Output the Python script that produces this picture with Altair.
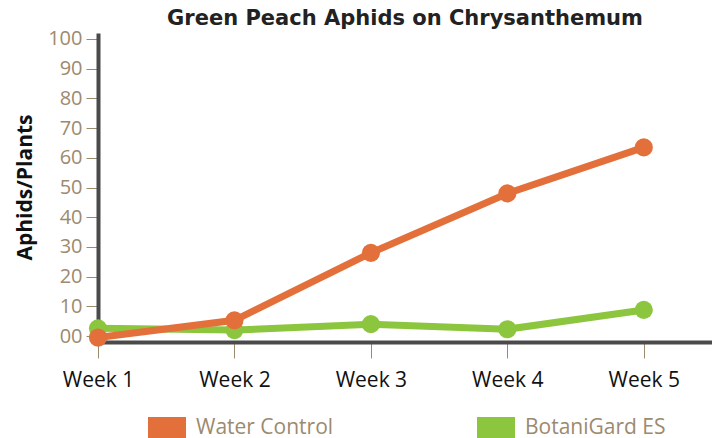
import altair as alt
import pandas as pd

weeks = [1, 2, 3, 4, 5]
water_control = [-0.5, 5.3, 28, 48, 63.5]
botanigard = [2.6, 2.0, 4.0, 2.3, 8.8]
series_names = ["Water Control", "BotaniGard ES"]
series_colors = ["#E3703A", "#8CC63F"]
y_ticks = [0, 10, 20, 30, 40, 50, 60, 70, 80, 90, 100]

rows = []
for w, v in zip(weeks, botanigard):
    rows.append({"week": w, "value": v, "series": series_names[1], "order": 0})
for w, v in zip(weeks, water_control):
    rows.append({"week": w, "value": v, "series": series_names[0], "order": 1})
df = pd.DataFrame(rows)

brown = "#9C8A6E"
font = "Open Sans"

x = alt.X("week:Q",
          scale=alt.Scale(domain=[1, 5.50], nice=False, zero=False),
          axis=alt.Axis(values=weeks, labelExpr="'Week ' + datum.value",
                        title=None, grid=False, domainColor="#4A4A4A",
                        domainWidth=4, tickColor=brown, tickWidth=1,
                        tickSize=16, labelFontSize=21, labelColor="#111",
                        labelFont=font, labelPadding=11, labelFlush=False,
                        labelOverlap=False))
y = alt.Y("value:Q",
          scale=alt.Scale(domain=[-2, 102], nice=False, zero=False),
          axis=alt.Axis(values=y_ticks,
                        labelExpr="datum.value == 0 ? '00' : datum.label",
                        title="Aphids/Plants", titleFontSize=21,
                        titleFont=font, titleFontWeight="bold",
                        titleColor="#111", titleX=-73, titleY=154,
                        titleAngle=270, titleAlign="center",
                        titleBaseline="middle",
                        grid=False, domainColor="#4A4A4A", domainWidth=4,
                        tickColor=brown, tickWidth=1, tickSize=12,
                        labelFontSize=20, labelColor=brown, labelFont=font,
                        labelPadding=4, labelFlush=False))
color = alt.Color("series:N",
                  scale=alt.Scale(domain=series_names, range=series_colors),
                  legend=alt.Legend(title=None, orient="none",
                                    direction="horizontal", legendX=50,
                                    legendY=376,
                                    symbolType="M-1,-0.6H1V0.6H-1Z",
                                    symbolSize=1444, symbolStrokeWidth=0,
                                    labelFontSize=21, labelColor=brown,
                                    labelFont=font, labelOffset=10,
                                    gridAlign="all", columnPadding=140))

base = alt.Chart(df).encode(x=x, y=y, color=color, order="order:Q")
lines = base.mark_line(strokeWidth=7, opacity=1).encode(detail="series:N")
points = base.mark_circle(size=330, opacity=1)

chart = alt.layer(lines, points).properties(
    width=614, height=309,
    title=alt.TitleParams("Green Peach Aphids on Chrysanthemum",
                          fontSize=21, font="DejaVu Sans", fontWeight="bold",
                          color="#222", anchor="middle", offset=0,
                          frame="group"),
    autosize=alt.AutoSizeParams(type="none"),
    padding={"left": 90, "top": 25, "right": 0, "bottom": 96},
).configure_view(stroke=None)

chart.save("out.html", embed_options={"renderer": "svg", "actions": False})
